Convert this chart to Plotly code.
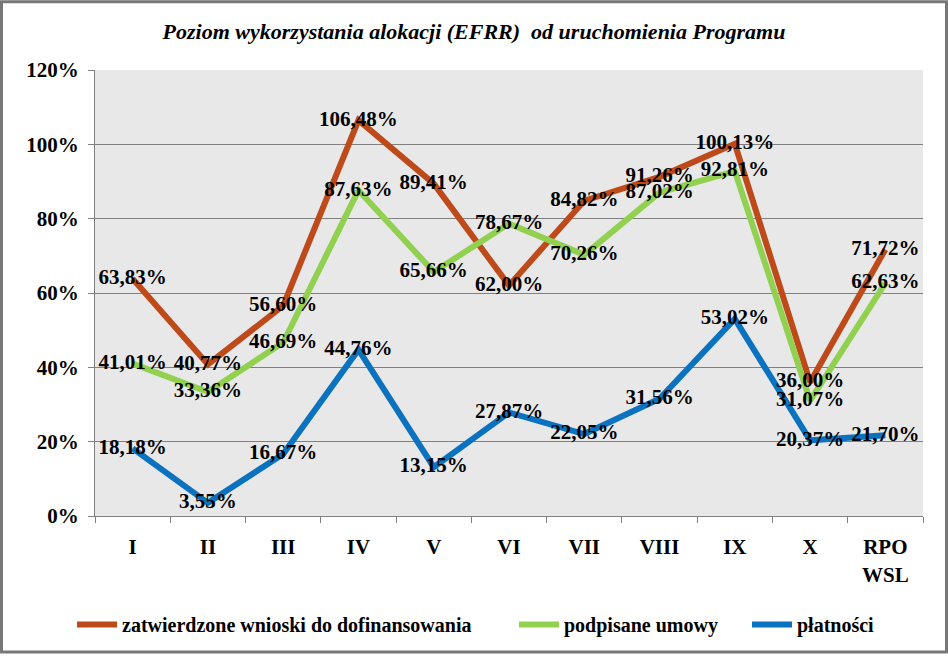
import plotly.graph_objects as go

categories = ["I", "II", "III", "IV", "V", "VI", "VII", "VIII", "IX", "X", "RPO<br>WSL"]
zatwierdzone = [63.83, 40.77, 56.60, 106.48, 89.41, 62.00, 84.82, 91.26, 100.13, 36.00, 71.72]
podpisane = [41.01, 33.36, 46.69, 87.63, 65.66, 78.67, 70.26, 87.02, 92.81, 31.07, 62.63]
platnosci = [18.18, 3.55, 16.67, 44.76, 13.15, 27.87, 22.05, 31.56, 53.02, 20.37, 21.70]
y_ticks = [0, 20, 40, 60, 80, 100, 120]
y_tick_labels = ["0%", "20%", "40%", "60%", "80%", "100%", "120%"]

series = [
    ("zatwierdzone wnioski do dofinansowania", zatwierdzone, "#BE4A1A", "legend"),
    ("podpisane umowy", podpisane, "#92D050", "legend2"),
    ("płatności", platnosci, "#0B72C0", "legend3"),
]

SERIF = "Liberation Serif"

fig = go.Figure()
for name, vals, color, lg in series:
    fig.add_trace(go.Scatter(
        x=categories, y=vals, name=name, mode="lines",
        line=dict(color=color, width=6), legend=lg, hoverinfo="skip",
    ))

def fmt(v):
    return f"{v:.2f}".replace(".", ",") + "%"

for name, vals, color, lg in series:
    fig.add_trace(go.Scatter(
        x=categories, y=vals, mode="text", showlegend=False,
        text=[fmt(v) for v in vals], textposition="middle center",
        textfont=dict(family=SERIF, size=21, color="black", weight="bold"),
        hoverinfo="skip",
    ))

L, R, T, B = 95, 25, 70, 138
W, H = 948, 656
pw, ph = W - L - R, H - T - B

def px_x(p):
    return (p - L) / pw

def px_y(p):
    return (H - B - p) / ph

legend_common = dict(
    orientation="h", xanchor="left", yanchor="middle", y=px_y(627),
    font=dict(family=SERIF, size=20, color="black", weight="bold"),
    bgcolor="rgba(0,0,0,0)", itemwidth=40,
)

fig.update_layout(
    width=W, height=H,
    margin=dict(l=L, r=R, t=T, b=B),
    paper_bgcolor="white",
    plot_bgcolor="#E8E8E8",
    font=dict(family=SERIF),
    title=dict(
        text="<i><b>Poziom wykorzystania alokacji (EFRR)  od uruchomienia Programu</b></i>",
        x=0.5, xanchor="center", y=1 - 31 / H, yanchor="middle",
        font=dict(family=SERIF, size=22, color="black"),
    ),
    xaxis=dict(
        type="category", tickson="boundaries", ticks="outside", ticklen=6,
        tickcolor="#808080", showline=True, linecolor="#808080", showgrid=False,
        tickfont=dict(family=SERIF, size=21, color="black", weight="bold"),
        ticklabelstandoff=12,
        range=[-0.5, 10.5], fixedrange=True,
    ),
    yaxis=dict(
        range=[0, 120], tickvals=y_ticks, ticktext=y_tick_labels,
        ticks="outside", ticklen=6, tickcolor="#808080",
        showline=True, linecolor="#808080", showgrid=True, gridcolor="#808080",
        gridwidth=1, zeroline=False,
        tickfont=dict(family=SERIF, size=21, color="black", weight="bold"),
        ticklabelstandoff=5,
        fixedrange=True,
    ),
    legend=dict(x=px_x(72), **legend_common),
    legend2=dict(x=px_x(514), **legend_common),
    legend3=dict(x=px_x(747), **legend_common),
    showlegend=True,
    shapes=[dict(
        type="rect", xref="paper", yref="paper",
        x0=px_x(1.5), x1=px_x(946.5), y0=px_y(654.5), y1=px_y(1.5),
        line=dict(color="#777777", width=3), fillcolor="rgba(0,0,0,0)",
    )],
)

fig.write_html(
    "out.html",
    config={"displayModeBar": False},
    post_script="document.body.style.margin='0';document.body.style.overflow='hidden';",
)
